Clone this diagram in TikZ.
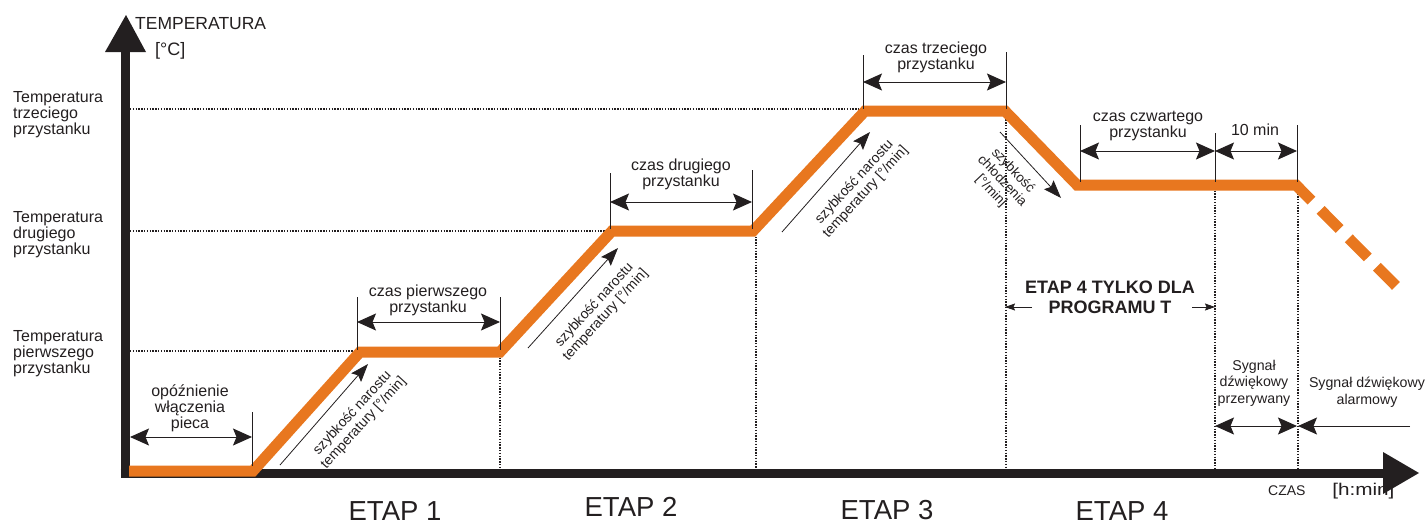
\documentclass[tikz,border=0pt]{standalone}
\usepackage{fontspec}
\setmainfont{Liberation Sans}
\usetikzlibrary{arrows.meta,calc}
\definecolor{orng}{RGB}{232,119,31}
\definecolor{ink}{RGB}{35,31,32}
\begin{document}
\begin{tikzpicture}[x=1pt,y=-1pt,
  lbl/.style={inner sep=0pt, text=ink, align=center, font=\fontsize{16}{16}\selectfont},
  lblL/.style={inner sep=0pt, text=ink, align=left, font=\fontsize{16}{16}\selectfont},
  sml/.style={inner sep=0pt, text=ink, align=center, font=\fontsize{14.2}{16.5}\selectfont},
  rot/.style={inner sep=0pt, text=ink, align=center, font=\fontsize{14}{15}\selectfont},
  etap/.style={inner sep=0pt, text=ink, anchor=base, font=\fontsize{27.5}{28}\selectfont},
  dimline/.style={draw=ink, line width=1pt, {Stealth[length=19pt,width=17pt,inset=3.5pt]}-{Stealth[length=19pt,width=17pt,inset=3.5pt]}},
  oneway/.style={draw=ink, line width=1pt, -{Stealth[length=19pt,width=17pt,inset=3.5pt]}},
  slopearrow/.style={draw=ink, line width=0.8pt, -{Stealth[length=18pt,width=13pt,inset=3pt]}},
  smallarrow/.style={draw=ink, line width=0.8pt, -{Stealth[length=10pt,width=7pt,inset=1.5pt]}},
  extline/.style={draw=ink, line width=0.8pt},
  dots/.style={draw=ink, line width=1.4pt, dash pattern=on 1.4pt off 1.4pt},
  axisline/.style={draw=ink, line width=9pt},
  curve/.style={draw=orng, line width=11pt, line join=miter}
]
\useasboundingbox (0,0) rectangle (1427,522);

% key points of the temperature curve
\coordinate (P0) at (129,471);
\coordinate (P1) at (253,471);
\coordinate (P2) at (360,352);
\coordinate (P3) at (500,352);
\coordinate (P4) at (612,231);
\coordinate (P5) at (753,231);
\coordinate (P6) at (865,111);
\coordinate (P7) at (1005,111);
\coordinate (P8) at (1077,185);
\coordinate (P9) at (1296,185);
\coordinate (E) at (1396,286);
\coordinate (Q) at ($(P9)!22pt!(E)$);

% dotted guide lines
\draw[dots] (130,109) -- (862,109);
\draw[dots] (130,231) -- (610,231);
\draw[dots] (130,351) -- (357,351);
\draw[dots] (500,352) -- (500,468);
\draw[dots] (756,231) -- (756,468);
\draw[dots] (1006,111) -- (1006,468);
\draw[dots] (1215,185) -- (1215,468);
\draw[dots] (1298,185) -- (1298,468);

% axes
\coordinate (Yb) at (125,477.5);
\coordinate (Yt) at (125,50);
\coordinate (Xl) at (120.5,473);
\coordinate (Xr) at (1385,473);
\draw[axisline] (Yb) -- (Yt);
\fill[ink] (105,52) -- (126,15) -- (146,52) -- cycle;
\draw[axisline] (Xl) -- (Xr);
\fill[ink] (1383,452) -- (1419,473) -- (1383,494) -- cycle;

% temperature curve
\draw[curve] (P0) -- (P1) -- (P2) -- (P3) -- (P4) -- (P5) -- (P6) -- (P7) -- (P8) -- (P9) -- (Q);
\draw[curve, dash pattern=on 27pt off 13pt, dash phase=27pt] (Q) -- (E);

% extension lines
\draw[extline] (252,412) -- (252,466);
\draw[extline] (357,297) -- (357,350);
\draw[extline] (500,297) -- (500,350);
\draw[extline] (610,173) -- (610,229);
\draw[extline] (752,170) -- (752,229);
\draw[extline] (863,55) -- (863,109);
\draw[extline] (1006,52) -- (1006,109);
\draw[extline] (1080,125) -- (1080,182);
\draw[extline] (1215,133) -- (1215,182);
\draw[extline] (1297,125) -- (1297,182);

% dimension arrows
\draw[dimline] (130,437) -- (252,437);
\draw[dimline] (357,322) -- (500,322);
\draw[dimline] (610,202) -- (752,202);
\draw[dimline] (863,82) -- (1006,82);
\draw[dimline] (1080,151) -- (1215,151);
\draw[dimline] (1215,151) -- (1297,151);
\draw[dimline] (1215,426) -- (1297,426);
\draw[oneway] (1410,426) -- (1298,426);

% slope arrows
\draw[slopearrow] (280,465) -- (368,364);
\draw[slopearrow] (528,348) -- (618,248);
\draw[slopearrow] (782,232) -- (870,132);
\draw[slopearrow] (1000,132) -- (1061,198);
\draw[smallarrow] (1032,307) -- (1005,307);
\draw[smallarrow] (1192,307) -- (1215,307);

% axis labels
\node[inner sep=0pt, anchor=base west, text=ink, font=\fontsize{17.5}{20}\selectfont] (tl) at (135,29) {TEMPERATURA};
\node[inner sep=0pt, anchor=base west, text=ink, font=\fontsize{18}{20}\selectfont] (tu) at (155,55) {[°C]};
\node[inner sep=0pt, anchor=base west, text=ink, font=\fontsize{14}{16}\selectfont] (cz) at (1268,495) {CZAS};
\node[inner sep=0pt, anchor=base west, text=ink, xscale=1.22, font=\fontsize{17}{20}\selectfont] (cu) at (1332,495) {[h:min]};

% temperature levels (base = last line)
\node[lblL, anchor=base west] (t3) at (13,134) {Temperatura\\trzeciego\\przystanku};
\node[lblL, anchor=base west] (t2) at (13,254) {Temperatura\\drugiego\\przystanku};
\node[lblL, anchor=base west] (t1) at (13,373) {Temperatura\\pierwszego\\przystanku};

% dimension labels
\node[lbl, anchor=base] (d0) at (190,428) {opóźnienie\\włączenia\\pieca};
\node[lbl, anchor=base] (d1) at (428,312) {czas pierwszego\\przystanku};
\node[lbl, anchor=base] (d2) at (681,186) {czas drugiego\\przystanku};
\node[lbl, anchor=base] (d3) at (936,69) {czas trzeciego\\przystanku};
\node[lbl, anchor=base] (d4) at (1148,137) {czas czwartego\\przystanku};
\node[lbl, anchor=base] (d5) at (1255,135) {10 min};

% slope labels
\node[rot, rotate=47.5] (s1) at (358,418) {szybkość narostu\\temperatury {[°/min]}};
\node[rot, rotate=47.5] (s2) at (600,310) {szybkość narostu\\temperatury {[°/min]}};
\node[rot, rotate=47.5] (s3) at (860,187) {szybkość narostu\\temperatury {[°/min]}};
\node[rot, rotate=-46.5, font=\fontsize{13.5}{15}\selectfont] (s4) at (1002,181) {szybkość\\chłodzenia\\{[°/min]}};

% etap 4 note
\node[inner sep=0pt, text=ink, align=center, anchor=base, font=\bfseries\fontsize{18}{20}\selectfont] (e4note) at (1110,313) {ETAP 4 TYLKO DLA\\PROGRAMU T};

% signal labels
\node[sml, anchor=base] (sg1) at (1254,403) {Sygnał\\dźwiękowy\\przerywany};
\node[sml, anchor=base] (sg2) at (1367,404) {Sygnał dźwiękowy\\alarmowy};

% stage labels
\node[etap] (e1) at (395,520) {ETAP 1};
\node[etap] (e2) at (631,516) {ETAP 2};
\node[etap] (e3) at (887,519) {ETAP 3};
\node[etap] (e4) at (1122,520) {ETAP 4};
\end{tikzpicture}
\end{document}
